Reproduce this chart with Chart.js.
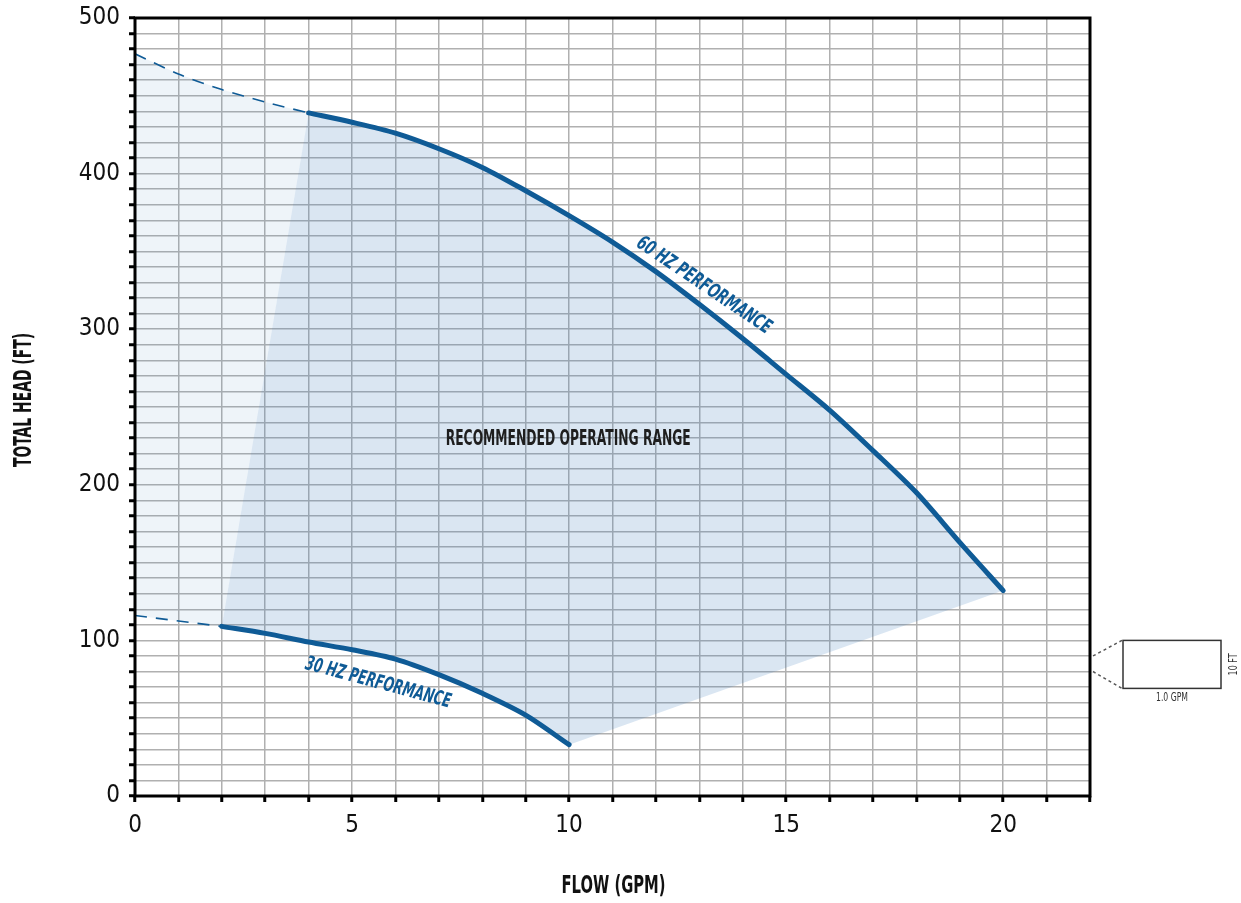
<!DOCTYPE html>
<html>
<head>
<meta charset="utf-8">
<title>Pump performance</title>
<script src="https://cdn.jsdelivr.net/npm/chart.js@4.4.1/dist/chart.umd.min.js"></script>
<style>
  html, body { margin: 0; padding: 0; background: #fff; }
  canvas { display: block; }
</style>
</head>
<body>
<canvas id="pump" width="1241" height="903"></canvas>
<script>
// 60 Hz curve (solid part) and its dashed extension to shut-off
var flow60 = [4, 5, 6, 7, 8, 9, 10, 11, 12, 13, 14, 15, 16, 17, 18, 19, 20];
var head60 = [439, 433, 426, 416, 404, 389, 373, 356, 337, 316, 294, 271, 248, 222, 195, 163, 132];
var flow60Ext = [0, 1, 2, 3, 4];
var head60Ext = [477, 464, 454, 446, 439];

// 30 Hz curve and its dashed extension
var flow30 = [2, 3, 4, 5, 6, 7, 8, 9, 10];
var head30 = [109, 104.5, 99, 94, 88, 78, 66, 52, 33];
var flow30Ext = [0, 1, 2];
var head30Ext = [116, 112.5, 109];

var xLabels = [0, 5, 10, 15, 20];
var yLabels = [0, 100, 200, 300, 400, 500];

var FONT = '"Noto Sans ExtraCondensed", "Noto Sans Condensed", "DejaVu Sans Condensed", sans-serif';
var BLUE = '#0f5b96';
var pumpChart;

window.addEventListener("load", function(){
    drawPumpChart();
});

function pts(xs, ys) {
    return xs.map(function (x, i) { return {x: x, y: ys[i]}; });
}

// text squeezed to a given width, the original uses a condensed face
function narrowText(ctx, text, x, y, angle, width) {
    var w = ctx.measureText(text).width;
    ctx.save();
    ctx.translate(x, y);
    ctx.rotate(angle);
    ctx.scale(Math.min(1, width / w), 1);
    ctx.fillText(text, 0, 0);
    ctx.restore();
}

var pumpLabels = {
    id: 'pumpLabels',
    afterDraw: function (chart) {
        var ctx = chart.ctx, xs = chart.scales.x, ys = chart.scales.y, a = chart.chartArea;
        var deg = Math.PI / 180;
        ctx.save();

        ctx.strokeStyle = '#000';
        ctx.lineWidth = 3;
        ctx.strokeRect(a.left, a.top, a.right - a.left, a.bottom - a.top);

        ctx.textAlign = 'center';
        ctx.textBaseline = 'middle';
        ctx.fillStyle = '#111';
        ctx.font = 'bold 24px ' + FONT;
        narrowText(ctx, 'FLOW (GPM)', (a.left + a.right) / 2 + 1, 887, 0, 104);
        narrowText(ctx, 'TOTAL HEAD (FT)', 25, (a.top + a.bottom) / 2 - 7, -90 * deg, 134);

        ctx.fillStyle = '#1e1e1e';
        ctx.font = 'bold 22px ' + FONT;
        narrowText(ctx, 'RECOMMENDED OPERATING RANGE', xs.getPixelForValue(9.98), ys.getPixelForValue(229), 0, 245);

        ctx.fillStyle = BLUE;
        ctx.font = 'italic bold 20px ' + FONT;
        narrowText(ctx, '60 HZ PERFORMANCE', xs.getPixelForValue(13.1), ys.getPixelForValue(328), 34 * deg, 158);
        narrowText(ctx, '30 HZ PERFORMANCE', xs.getPixelForValue(5.6), ys.getPixelForValue(72.5), 15 * deg, 150);

        // scale key: one grid cell blown up
        var bx = a.right + 33, bt = ys.getPixelForValue(100), bw = 98, bh = 48;
        ctx.strokeStyle = '#333';
        ctx.lineWidth = 1.5;
        ctx.strokeRect(bx, bt, bw, bh);
        ctx.strokeStyle = '#555';
        ctx.setLineDash([3, 3]);
        ctx.beginPath();
        ctx.moveTo(a.right + 3, ys.getPixelForValue(90));
        ctx.lineTo(bx - 1, bt);
        ctx.moveTo(a.right + 3, ys.getPixelForValue(80));
        ctx.lineTo(bx - 1, bt + bh);
        ctx.stroke();
        ctx.setLineDash([]);

        ctx.fillStyle = '#333';
        ctx.font = '12px ' + FONT;
        narrowText(ctx, '1.0 GPM', bx + bw / 2, bt + bh + 9, 0, 32);
        narrowText(ctx, '10 FT', bx + bw + 13, bt + bh / 2, -90 * deg, 22);

        ctx.restore();
    }
};

function drawPumpChart() {
    var ctx = document.getElementById("pump").getContext("2d");

    var rangeShape = pts(flow60, head60).concat(pts(flow30, head30).reverse());
    var leftShape = pts(flow60Ext, head60Ext).concat(pts(flow30Ext, head30Ext).reverse());

    var data = {
        datasets: [{
            label: '60 Hz',
            data: pts(flow60, head60),
            showLine: true,
            tension: 0.3,
            borderColor: BLUE,
            borderWidth: 5,
            borderCapStyle: 'round',
            pointRadius: 0,
            fill: false,
            order: 1
        }, {
            label: '30 Hz',
            data: pts(flow30, head30),
            showLine: true,
            tension: 0.3,
            borderColor: BLUE,
            borderWidth: 5,
            borderCapStyle: 'round',
            pointRadius: 0,
            fill: false,
            order: 1
        }, {
            label: '60 Hz shut-off',
            data: pts(flow60Ext, head60Ext),
            showLine: true,
            tension: 0.3,
            borderColor: BLUE,
            borderWidth: 1.6,
            borderDash: [12, 9],
            pointRadius: 0,
            fill: false,
            order: 2
        }, {
            label: '30 Hz shut-off',
            data: pts(flow30Ext, head30Ext),
            showLine: true,
            borderColor: BLUE,
            borderWidth: 1.6,
            borderDash: [12, 9],
            pointRadius: 0,
            fill: false,
            order: 2
        }, {
            label: 'Recommended range',
            data: rangeShape,
            showLine: true,
            borderWidth: 0,
            pointRadius: 0,
            backgroundColor: 'rgba(70,130,190,0.2)',
            fill: 'shape',
            order: 3
        }, {
            label: 'Below minimum flow',
            data: leftShape,
            showLine: true,
            borderWidth: 0,
            pointRadius: 0,
            backgroundColor: 'rgba(70,130,190,0.09)',
            fill: 'shape',
            order: 3
        }]
    };

    pumpChart = new Chart(ctx, {
        type: 'scatter',
        data: data,
        plugins: [pumpLabels],
        options: {
            responsive: false,
            animation: false,
            layout: { padding: { left: 0, top: 18, right: 151, bottom: 0 } },
            plugins: {
                legend: { display: false },
                tooltip: { enabled: false }
            },
            scales: {
                x: {
                    type: 'linear',
                    min: 0,
                    max: 22,
                    afterFit: function (s) {
                        s.height = 107;
                        s.paddingLeft = 0;
                        s.paddingRight = 0;
                    },
                    ticks: {
                        stepSize: 1,
                        autoSkip: false,
                        maxRotation: 0,
                        padding: 9,
                        color: '#111',
                        font: { family: FONT, size: 24 },
                        callback: function (v) { return xLabels.indexOf(v) >= 0 ? String(v) : ''; }
                    },
                    grid: { color: '#b0b0b0', lineWidth: 1.5, tickColor: '#000', tickWidth: 3, tickLength: 6 },
                    border: { display: false }
                },
                y: {
                    min: 0,
                    max: 500,
                    afterFit: function (s) {
                        s.width = 135;
                        s.paddingTop = 0;
                        s.paddingBottom = 0;
                    },
                    ticks: {
                        stepSize: 10,
                        autoSkip: false,
                        padding: 9,
                        color: '#111',
                        font: { family: FONT, size: 24 },
                        callback: function (v) { return yLabels.indexOf(v) >= 0 ? String(v) : ''; }
                    },
                    grid: { color: '#b0b0b0', lineWidth: 1.5, tickColor: '#000', tickWidth: 3, tickLength: 6 },
                    border: { display: false }
                }
            }
        }
    });
}
</script>
</body>
</html>
